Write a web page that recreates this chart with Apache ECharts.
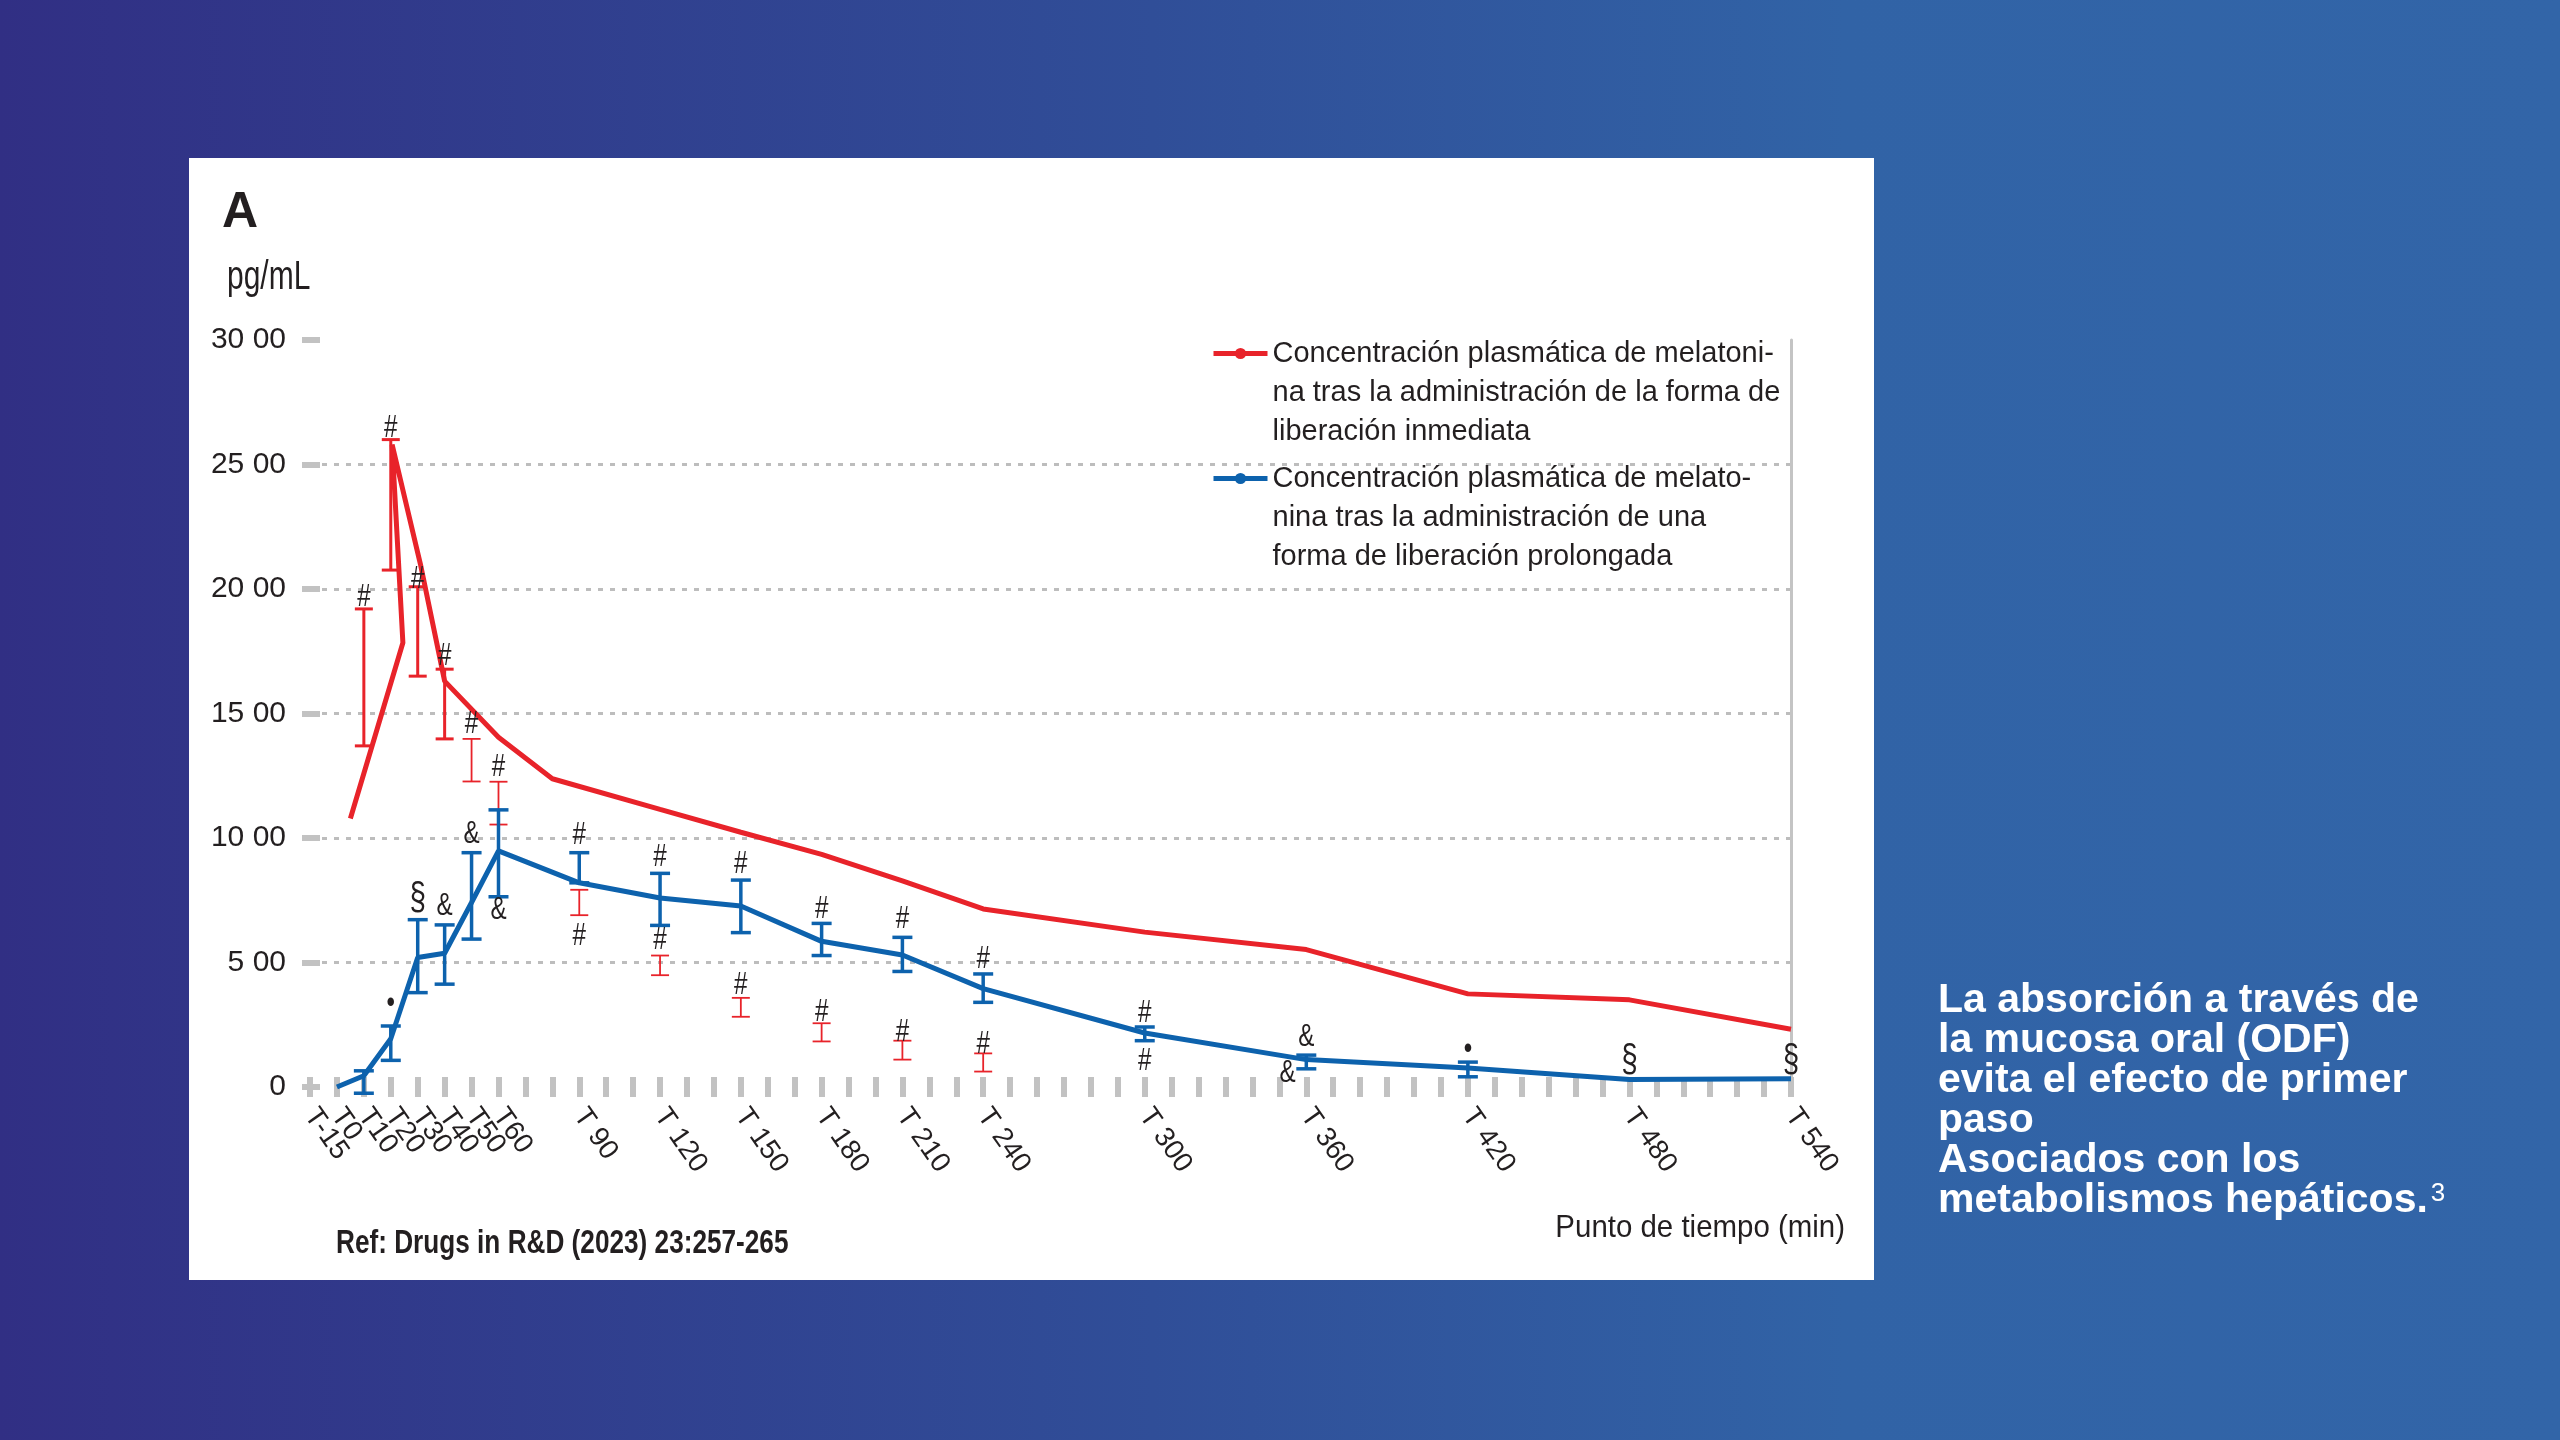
<!DOCTYPE html>
<html>
<head>
<meta charset="utf-8">
<title>Melatonina - concentración plasmática</title>
<script src="https://cdn.jsdelivr.net/npm/echarts@6/dist/echarts.min.js"></script>
<style>
  html, body { margin: 0; padding: 0; }
  #chart { width: 2560px; height: 1440px; }
</style>
</head>
<body>
<div id="chart"></div>
<script>
// immediate release (red) - time in min, pg/mL
var redTimes  = [5, 24.5, 20.5, 31, 40, 60, 80, 120, 150, 180, 210, 240, 300, 360, 420, 480, 540];
var redValues = [1078, 1784, 2580, 2100, 1630, 1405, 1238, 1115, 1023, 934, 828, 715, 622, 552, 374, 350, 232];

// prolonged release (blue)
var blueTimes  = [0, 10, 20, 30, 40, 50, 60, 90, 120, 150, 180, 210, 240, 300, 360, 420, 480, 540];
var blueValues = [0, 45, 194, 520, 537, 741, 948, 820, 759, 727, 585, 530, 395, 217, 110, 76, 30, 33];

// error bars: [time, low, high]
var redBarsMain  = [[10, 1370, 1920], [20, 2076, 2600], [30, 1650, 2009], [40, 1398, 1678]];
var redBarsSmall = [[50, 1227, 1398], [60, 1054, 1226], [90, 690, 792], [120, 449, 528],
                    [150, 282, 358], [180, 183, 256], [210, 110, 186], [240, 62, 135]];
var blueBars = [[10, -25, 65], [20, 107, 245], [30, 379, 672], [40, 413, 651], [50, 594, 941],
                [60, 764, 1113], [90, 820, 941], [120, 649, 858], [150, 620, 831], [180, 528, 657],
                [210, 464, 601], [240, 340, 454], [300, 186, 241], [360, 73, 128], [420, 41, 100]];

// significance marks
var markTimes  = [10, 20, 30, 40, 50, 60, 50, 60, 30, 40, 20,
                  90, 90, 120, 120, 150, 150, 180, 180, 210, 210, 240, 240,
                  300, 300, 360, 353, 420, 480, 540];
var markValues = [1965, 2646, 2040, 1731, 1458, 1285, 1015, 710, 755, 727, 337,
                  1009, 605, 922, 590, 892, 408, 713, 300, 674, 218, 514, 170,
                  296, 102, 198, 54, 150, 108, 108];
var markTexts  = ['#', '#', '#', '#', '#', '#', '&', '&', '§', '&', '•',
                  '#', '#', '#', '#', '#', '#', '#', '#', '#', '#', '#', '#',
                  '#', '#', '&', '&', '•', '§', '§'];

// axis labels
var xLabelValues = [-10, 0, 10, 20, 30, 40, 50, 60, 90, 120, 150, 180, 210, 240, 300, 360, 420, 480, 540];
var xLabelTexts  = ['T-15', 'T0', 'T10', 'T20', 'T30', 'T40', 'T50', 'T60', 'T 90', 'T 120', 'T 150',
                    'T 180', 'T 210', 'T 240', 'T 300', 'T 360', 'T 420', 'T 480', 'T 540'];
var yTickValues = [0, 500, 1000, 1500, 2000, 2500, 3000];
var yTickTexts  = ['0', '5 00', '10 00', '15 00', '20 00', '25 00', '30 00'];

var redName  = 'Concentración plasmática de melatoni-\nna tras la administración de la forma de\nliberación inmediata';
var blueName = 'Concentración plasmática de melato-\nnina tras la administración de una\nforma de liberación prolongada';

var RED = '#e8232a';
var BLUE = '#0d62ad';
var INK = '#231f20';
var GRAY = '#c2c2c2';
var SANS = '"Liberation Sans", Arial, sans-serif';

function pairs(xs, ys) {
  return xs.map(function (x, i) { return [x, ys[i]]; });
}

function errorBars(name, data, color, width, cap) {
  return {
    type: 'custom',
    name: name,
    data: data,
    z: 3,
    silent: true,
    encode: { x: 0, y: [1, 2] },
    renderItem: function (params, api) {
      var x = api.value(0);
      var lo = api.coord([x, api.value(1)]);
      var hi = api.coord([x, api.value(2)]);
      var style = { stroke: color, lineWidth: width, fill: null };
      return {
        type: 'group',
        children: [
          { type: 'line', shape: { x1: lo[0], y1: lo[1], x2: hi[0], y2: hi[1] }, style: style },
          { type: 'line', shape: { x1: hi[0] - cap, y1: hi[1], x2: hi[0] + cap, y2: hi[1] }, style: style },
          { type: 'line', shape: { x1: lo[0] - cap, y1: lo[1], x2: lo[0] + cap, y2: lo[1] }, style: style }
        ]
      };
    }
  };
}

// time axis; the labels are split over extra axes so the crowded
// T-15 / T0 pair is not dropped by the min-label overlap check
function timeAxis(ticks, labelFilter, showMin) {
  return {
    type: 'value',
    position: 'bottom',
    min: -10,
    max: 540,
    interval: 10,
    offset: 10,
    axisLine: { show: false, onZero: false },
    axisTick: { show: ticks, inside: true, length: 20, lineStyle: { color: GRAY, width: 6 } },
    splitLine: { show: false },
    axisLabel: {
      show: !!labelFilter,
      rotate: -55,
      margin: 14,
      showMinLabel: showMin,
      showMaxLabel: true,
      color: INK,
      fontFamily: SANS,
      fontSize: 28,
      formatter: function (v) {
        var i = xLabelValues.indexOf(v);
        return (i < 0 || !labelFilter(v)) ? '' : xLabelTexts[i];
      }
    }
  };
}

var chart = echarts.init(document.getElementById('chart'));

// two blank lines on top so the icon sits on the first text line
function legendBlock(name) { return '\n\n' + name; }
var legendText = { color: INK, fontFamily: SANS, fontSize: 29, lineHeight: 39 };

var option = {
  animation: false,
  grid: { left: 310, right: 769, top: 340, bottom: 353 },
  legend: [
    { data: [redName], left: 1211, top: 256, padding: 0, itemWidth: 54, itemHeight: 14,
      selectedMode: false, formatter: legendBlock, textStyle: legendText, lineStyle: { width: 5 } },
    { data: [blueName], left: 1211, top: 381, padding: 0, itemWidth: 54, itemHeight: 14,
      selectedMode: false, formatter: legendBlock, textStyle: legendText, lineStyle: { width: 5 } }
  ],
  xAxis: [
    timeAxis(true, null, true),
    timeAxis(false, function (v) { return v !== 0; }, true),
    timeAxis(false, function (v) { return v === 0; }, false)
  ],
  yAxis: [
    {
      type: 'value',
      min: 0,
      max: 3000,
      interval: 500,
      offset: -10,
      axisLine: { show: false, onZero: false },
      axisTick: { show: true, inside: false, length: 18, lineStyle: { color: GRAY, width: 6 } },
      splitLine: {
        show: true,
        showMinLine: false,
        showMaxLine: false,
        lineStyle: { color: '#bdbdbd', width: 3, type: [5, 7] }
      },
      axisLabel: {
        margin: 34,
        color: INK,
        fontFamily: SANS,
        fontSize: 30,
        formatter: function (v) {
          var i = yTickValues.indexOf(v);
          return i < 0 ? '' : yTickTexts[i];
        }
      }
    },
    {
      type: 'value',
      position: 'right',
      min: 0,
      max: 3000,
      interval: 500,
      axisLine: { show: true, onZero: false, lineStyle: { color: '#c4c4c4', width: 3 } },
      axisTick: { show: false },
      axisLabel: { show: false },
      splitLine: { show: false }
    }
  ],
  series: [
    {
      name: redName,
      type: 'line',
      data: pairs(redTimes, redValues),
      color: RED,
      symbol: 'circle',
      symbolSize: 9,
      showSymbol: false,
      lineStyle: { color: RED, width: 5 },
      z: 5
    },
    {
      name: blueName,
      type: 'line',
      data: pairs(blueTimes, blueValues),
      color: BLUE,
      symbol: 'circle',
      symbolSize: 9,
      showSymbol: false,
      lineStyle: { color: BLUE, width: 5 },
      z: 5
    },
    errorBars('redMain', redBarsMain, RED, 3, 9),
    errorBars('redSmall', redBarsSmall, RED, 1.8, 9),
    errorBars('blueBars', blueBars, BLUE, 3.5, 10),
    {
      type: 'custom',
      name: 'marks',
      data: pairs(markTimes, markValues),
      encode: { x: 0, y: 1 },
      z: 6,
      silent: true,
      renderItem: function (params, api) {
        var p = api.coord([api.value(0), api.value(1)]);
        var t = markTexts[params.dataIndex];
        return {
          type: 'text',
          x: p[0],
          y: p[1],
          scaleX: 0.78,
          style: {
            text: t,
            fill: INK,
            fontFamily: SANS,
            fontSize: t === '§' ? 38 : 31,
            align: 'center',
            verticalAlign: 'middle'
          }
        };
      }
    }
  ],
  graphic: [
    {
      type: 'rect', z: -10, silent: true,
      shape: { x: 0, y: 0, width: 2560, height: 1440 },
      style: {
        fill: new echarts.graphic.LinearGradient(0, 0, 1, 0, [
          { offset: 0, color: '#312f84' },
          { offset: 0.45, color: '#304e98' },
          { offset: 0.72, color: '#3163a6' },
          { offset: 1, color: '#3265a8' }
        ])
      }
    },
    {
      type: 'rect', z: -9, silent: true,
      shape: { x: 189, y: 158, width: 1685, height: 1122 },
      style: { fill: '#ffffff' }
    },
    {
      type: 'text', x: 222, y: 213,
      style: { text: 'A', fill: INK, fontFamily: SANS, fontWeight: 'bold', fontSize: 50, verticalAlign: 'middle' }
    },
    {
      type: 'text', x: 227, y: 278, scaleX: 0.75,
      style: { text: 'pg/mL', fill: INK, fontFamily: SANS, fontSize: 40, verticalAlign: 'middle' }
    },
    {
      type: 'text', x: 336, y: 1244, scaleX: 0.77,
      style: { text: 'Ref: Drugs in R&D (2023) 23:257-265', fill: INK, fontFamily: SANS, fontWeight: 'bold', fontSize: 34, verticalAlign: 'middle' }
    },
    {
      type: 'text', x: 1845, y: 1228, scaleX: 0.92,
      style: { text: 'Punto de tiempo (min)', fill: INK, fontFamily: SANS, fontSize: 32, align: 'right', verticalAlign: 'middle' }
    },
    {
      type: 'text', x: 1938, y: 981,
      style: {
        text: '{b|La absorción a través de}\n{b|la mucosa oral (ODF)}\n{b|evita el efecto de primer}\n{b|paso}\n{b|Asociados con los}\n{b|metabolismos hepáticos.}{s|3}',
        verticalAlign: 'top',
        rich: {
          b: { fill: '#ffffff', fontFamily: SANS, fontWeight: 'bold', fontSize: 41, lineHeight: 40 },
          s: { fill: '#ffffff', fontFamily: SANS, fontSize: 26, lineHeight: 40, padding: [0, 0, 14, 3] }
        }
      }
    }
  ]
};

chart.setOption(option);
</script>
</body>
</html>
